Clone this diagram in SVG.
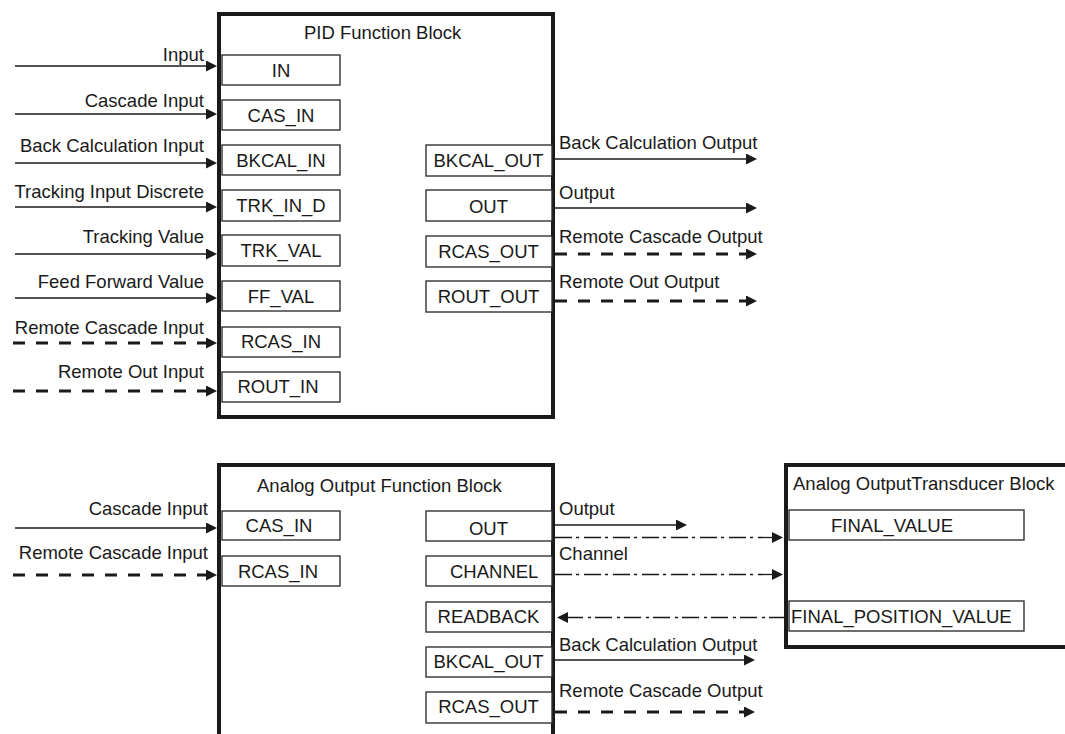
<svg xmlns="http://www.w3.org/2000/svg" width="1065" height="734" viewBox="0 0 1065 734">
<defs>
<style>
text{font-family:"Liberation Sans",Arial,sans-serif;font-size:18.5px;fill:#1a1a1a}
.blk{fill:none;stroke:#1a1a1a;stroke-width:4}
.box{fill:#fff;stroke:#333;stroke-width:1.4}
.c{text-anchor:middle}
.e{text-anchor:end}
.sol{stroke:#1a1a1a;stroke-width:1.4;fill:none}
.dsh{stroke:#1a1a1a;stroke-width:3;fill:none;stroke-dasharray:12 11}
.dd{stroke:#1a1a1a;stroke-width:1.3;fill:none;stroke-dasharray:17 4 3 5}
</style>
<marker id="ah" markerUnits="userSpaceOnUse" markerWidth="12" markerHeight="12" refX="0" refY="5.5" orient="auto">
<path d="M0,0 L11,5.5 L0,11 z" fill="#1a1a1a"/>
</marker>
</defs>
<rect width="1065" height="734" fill="#fff"/>

<g id="pid-block">
<rect class="blk" x="219" y="14" width="334" height="403"/>
<text x="304" y="39">PID Function Block</text>
</g>
<g id="pid-in"><rect class="box" x="222" y="55" width="118" height="30"/><text class="c" x="281" y="77">IN</text></g>
<g id="pid-cas-in"><rect class="box" x="222" y="100" width="118" height="30"/><text class="c" x="281" y="122">CAS_IN</text></g>
<g id="pid-bkcal-in"><rect class="box" x="222" y="145" width="118" height="30"/><text class="c" x="281" y="167">BKCAL_IN</text></g>
<g id="pid-trk-in-d"><rect class="box" x="222" y="190" width="118" height="31"/><text class="c" x="281" y="212">TRK_IN_D</text></g>
<g id="pid-trk-val"><rect class="box" x="222" y="235" width="118" height="31"/><text class="c" x="281" y="257">TRK_VAL</text></g>
<g id="pid-ff-val"><rect class="box" x="222" y="281" width="118" height="30"/><text class="c" x="281" y="303">FF_VAL</text></g>
<g id="pid-rcas-in"><rect class="box" x="222" y="327" width="118" height="30"/><text class="c" x="281" y="348">RCAS_IN</text></g>
<g id="pid-rout-in"><rect class="box" x="222" y="372" width="118" height="30"/><text class="c" x="278" y="393">ROUT_IN</text></g>
<g id="pid-bkcal-out"><rect class="box" x="426" y="145" width="126" height="31"/><text class="c" x="488.5" y="167">BKCAL_OUT</text></g>
<g id="pid-out"><rect class="box" x="426" y="190" width="126" height="31"/><text class="c" x="488.5" y="213">OUT</text></g>
<g id="pid-rcas-out"><rect class="box" x="426" y="236" width="126" height="31"/><text class="c" x="488.5" y="258">RCAS_OUT</text></g>
<g id="pid-rout-out"><rect class="box" x="426" y="281" width="126" height="31"/><text class="c" x="488.5" y="303">ROUT_OUT</text></g>

<g id="ao-block">
<path class="blk" d="M219,740 V465 H553 V740"/>
<text x="257" y="492">Analog Output Function Block</text>
</g>
<g id="ao-cas-in"><rect class="box" x="222" y="511" width="118" height="29"/><text class="c" x="279" y="532">CAS_IN</text></g>
<g id="ao-rcas-in"><rect class="box" x="222" y="556" width="118" height="30"/><text class="c" x="278" y="578">RCAS_IN</text></g>
<g id="ao-out"><rect class="box" x="426" y="511" width="126" height="30"/><text class="c" x="488.5" y="535">OUT</text></g>
<g id="ao-channel"><rect class="box" x="426" y="556" width="126" height="30"/><text x="450" y="578">CHANNEL</text></g>
<g id="ao-readback"><rect class="box" x="426" y="602" width="126" height="30"/><text class="c" x="488.5" y="623">READBACK</text></g>
<g id="ao-bkcal-out"><rect class="box" x="426" y="647" width="126" height="30"/><text class="c" x="488.5" y="668">BKCAL_OUT</text></g>
<g id="ao-rcas-out"><rect class="box" x="426" y="692" width="126" height="31"/><text class="c" x="488.5" y="713">RCAS_OUT</text></g>

<g id="transducer-block">
<path class="blk" d="M1070,465 H786 V647 H1070"/>
<text x="793" y="490">Analog OutputTransducer Block</text>
</g>
<g id="tb-final-value"><rect class="box" x="789" y="510" width="235" height="30"/><text x="831" y="532">FINAL_VALUE</text></g>
<g id="tb-final-position-value"><rect class="box" x="789" y="601" width="235" height="30"/><text x="791" y="623">FINAL_POSITION_VALUE</text></g>

<g id="connectors">
<line class="sol" x1="15" y1="66" x2="206" y2="66" marker-end="url(#ah)"/>
<line class="sol" x1="15" y1="114" x2="206" y2="114" marker-end="url(#ah)"/>
<line class="sol" x1="15" y1="163" x2="206" y2="163" marker-end="url(#ah)"/>
<line class="sol" x1="15" y1="207" x2="206" y2="207" marker-end="url(#ah)"/>
<line class="sol" x1="15" y1="254" x2="206" y2="254" marker-end="url(#ah)"/>
<line class="sol" x1="15" y1="298" x2="206" y2="298" marker-end="url(#ah)"/>
<line class="dsh" x1="13" y1="343" x2="206" y2="343" marker-end="url(#ah)"/>
<line class="dsh" x1="13" y1="391" x2="206" y2="391" marker-end="url(#ah)"/>

<line class="sol" x1="555" y1="159" x2="746" y2="159" marker-end="url(#ah)"/>
<line class="sol" x1="555" y1="208" x2="746" y2="208" marker-end="url(#ah)"/>
<line class="dsh" x1="555" y1="254" x2="746" y2="254" marker-end="url(#ah)"/>
<line class="dsh" x1="555" y1="301" x2="746" y2="301" marker-end="url(#ah)"/>

<line class="sol" x1="15" y1="528" x2="206" y2="528" marker-end="url(#ah)"/>
<line class="dsh" x1="13" y1="575" x2="206" y2="575" marker-end="url(#ah)"/>

<line class="sol" x1="555" y1="525" x2="676" y2="525" marker-end="url(#ah)"/>
<line class="dd" x1="555" y1="537.5" x2="772" y2="537.5" marker-end="url(#ah)"/>
<line class="dd" x1="555" y1="574.5" x2="772" y2="574.5" marker-end="url(#ah)"/>
<line class="dd" x1="786" y1="617.5" x2="568" y2="617.5" marker-end="url(#ah)"/>
<line class="sol" x1="555" y1="660" x2="744" y2="660" marker-end="url(#ah)"/>
<line class="dsh" x1="555" y1="712" x2="744" y2="712" marker-end="url(#ah)"/>

<text class="e" x="204" y="61">Input</text>
<text class="e" x="204" y="107">Cascade Input</text>
<text class="e" x="204" y="152">Back Calculation Input</text>
<text class="e" x="204" y="198">Tracking Input Discrete</text>
<text class="e" x="204" y="243">Tracking Value</text>
<text class="e" x="204" y="288">Feed Forward Value</text>
<text class="e" x="204" y="334">Remote Cascade Input</text>
<text class="e" x="204" y="378">Remote Out Input</text>

<text x="559" y="149">Back Calculation Output</text>
<text x="559" y="199">Output</text>
<text x="559" y="243">Remote Cascade Output</text>
<text x="559" y="288">Remote Out Output</text>

<text class="e" x="208" y="515">Cascade Input</text>
<text class="e" x="208" y="559">Remote Cascade Input</text>

<text x="559" y="515">Output</text>
<text x="559" y="560">Channel</text>
<text x="559" y="651">Back Calculation Output</text>
<text x="559" y="697">Remote Cascade Output</text>
</g>
</svg>
